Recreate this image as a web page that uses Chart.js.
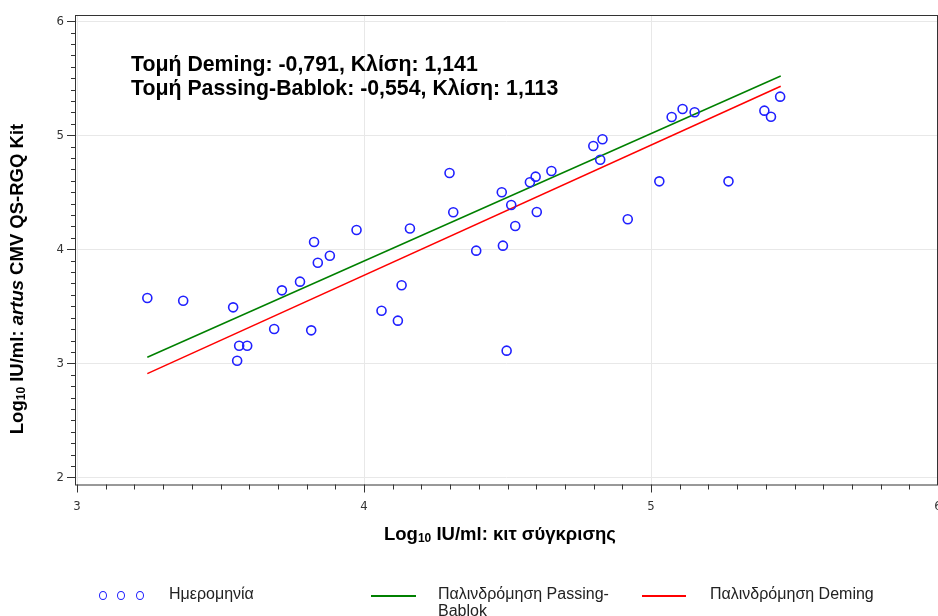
<!DOCTYPE html>
<html>
<head>
<meta charset="utf-8">
<script src="https://cdn.jsdelivr.net/npm/chart.js@4/dist/chart.umd.min.js"></script>
<style>
  html, body { margin: 0; padding: 0; background: #fff; overflow: hidden; }
  #wrap { position: relative; width: 938px; height: 616px; }
  .leg { position: absolute; font: 16px 'Liberation Sans', Arial, sans-serif; color: #222; line-height: 17px; white-space: nowrap; }
  .dot { position: absolute; width: 6px; height: 7px; border: 1.5px solid #2020ff; border-radius: 50%; }
  .ln { position: absolute; height: 1.5px; }
</style>
</head>
<body>
<div id="wrap">
  <canvas id="chart"></canvas>
  <div class="dot" style="left:99px;top:591px"></div>
  <div class="dot" style="left:117px;top:591px"></div>
  <div class="dot" style="left:136px;top:591px"></div>
  <div class="leg" style="left:169px;top:585px">Ημερομηνία</div>
  <div class="ln" style="left:371px;top:595px;width:45px;background:rgb(0,128,0)"></div>
  <div class="leg" style="left:438px;top:585px">Παλινδρόμηση Passing-<br>Bablok</div>
  <div class="ln" style="left:642px;top:595px;width:44px;background:rgb(255,0,0)"></div>
  <div class="leg" style="left:710px;top:585px">Παλινδρόμηση Deming</div>
</div>
<script>
// comparison kit (x) vs artus CMV QS-RGQ (y), log10 IU/ml
const xVals = [3.245, 3.370, 3.544, 3.565, 3.593, 3.558, 3.687, 3.714, 3.777, 3.816,
               3.826, 3.839, 3.881, 3.974, 4.061, 4.118, 4.131, 4.160, 4.298, 4.311,
               4.391, 4.480, 4.484, 4.497, 4.513, 4.527, 4.578, 4.598, 4.602, 4.653,
               4.799, 4.831, 4.823, 4.919, 5.029, 5.072, 5.110, 5.152, 5.270, 5.395,
               5.418, 5.450];
const yVals = [3.573, 3.549, 3.491, 3.154, 3.154, 3.023, 3.301, 3.640, 3.716, 3.289,
               4.064, 3.882, 3.944, 4.169, 3.461, 3.374, 3.684, 4.182, 4.669, 4.325,
               3.988, 4.500, 4.032, 3.111, 4.389, 4.204, 4.588, 4.637, 4.327, 4.687,
               4.906, 4.965, 4.786, 4.263, 4.596, 5.161, 5.231, 5.202, 4.596, 5.216,
               5.163, 5.339];

// regression line end points
const lineX = [3.245, 5.452];
const pbY = [3.053, 5.520];
const demingY = [2.909, 5.430];

const annotation = [
  'Τομή Deming: -0,791, Κλίση: 1,141',
  'Τομή Passing-Bablok: -0,554, Κλίση: 1,113'
];

const toPts = (xs, ys) => xs.map((x, i) => ({x: x, y: ys[i]}));

const tickFont = "'Liberation Sans Narrow', 'DejaVu Sans Condensed', sans-serif";
const textFont = "'Liberation Sans', Arial, sans-serif";

function drawParts(ctx, parts, cx, cy) {
  let total = 0;
  parts.forEach(p => { ctx.font = p.f; p.w = ctx.measureText(p.t).width; total += p.w; });
  let x = cx - total / 2;
  ctx.textBaseline = 'middle';
  ctx.textAlign = 'left';
  parts.forEach(p => { ctx.font = p.f; ctx.fillText(p.t, x, cy + (p.dy || 0)); x += p.w; });
}

const extras = {
  id: 'extras',
  afterDraw(chart) {
    const {ctx, chartArea: a, scales: {x, y}} = chart;
    ctx.save();
    ctx.strokeStyle = '#333';
    ctx.lineWidth = 1;
    ctx.strokeRect(a.left + 0.5, a.top + 0.5, a.right - a.left - 1, a.bottom - a.top);

    ctx.beginPath();
    for (let i = 30; i <= 60; i++) {
      const px = Math.round(x.getPixelForValue(i / 10)) + 0.5;
      if (px > a.right) continue;
      const len = i % 10 === 0 ? 8 : 5;
      ctx.moveTo(px, a.bottom);
      ctx.lineTo(px, a.bottom + len);
    }
    for (let i = 20; i <= 60; i++) {
      const py = Math.round(y.getPixelForValue(i / 10)) + 0.5;
      const len = i % 10 === 0 ? 8 : 4;
      ctx.moveTo(a.left - len, py);
      ctx.lineTo(a.left, py);
    }
    ctx.stroke();

    ctx.fillStyle = '#000';
    ctx.font = 'bold 21.3px ' + textFont;
    ctx.textAlign = 'left';
    ctx.textBaseline = 'middle';
    ctx.fillText(annotation[0], 131, 65);
    ctx.fillText(annotation[1], 131, 89);

    const b = 'bold 18.5px ' + textFont;
    const sub = 'bold 12px ' + textFont;
    drawParts(ctx, [
      {t: 'Log', f: b}, {t: '10', f: sub, dy: 4}, {t: ' IU/ml: κιτ σύγκρισης', f: b}
    ], 500, 535);

    ctx.translate(18, 279);
    ctx.rotate(-Math.PI / 2);
    drawParts(ctx, [
      {t: 'Log', f: b}, {t: '10', f: sub, dy: 4}, {t: ' IU/ml: ', f: b},
      {t: 'artus', f: 'italic bold 18.5px ' + textFont}, {t: ' CMV QS-RGQ Kit', f: b}
    ], 0, 0);
    ctx.restore();
  }
};

const gridColor = c => Number.isInteger(c.tick && c.tick.value) ? '#e8e8e8' : 'rgba(0,0,0,0)';

new Chart(document.getElementById('chart').getContext('2d'), {
  type: 'scatter',
  data: {
    datasets: [{
      label: 'Ημερομηνία',
      data: toPts(xVals, yVals),
      borderColor: '#2020ff',
      backgroundColor: 'rgba(0,0,0,0)',
      pointRadius: 4.5,
      borderWidth: 1.6
    }, {
      label: 'Παλινδρόμηση Passing-Bablok',
      data: toPts(lineX, pbY),
      showLine: true,
      borderColor: 'rgb(0,128,0)',
      borderWidth: 1.5,
      pointRadius: 0
    }, {
      label: 'Παλινδρόμηση Deming',
      data: toPts(lineX, demingY),
      showLine: true,
      borderColor: 'rgb(255,0,0)',
      borderWidth: 1.5,
      pointRadius: 0
    }]
  },
  options: {
    responsive: true,
    maintainAspectRatio: false,
    devicePixelRatio: 1,
    animation: false,
    layout: { autoPadding: false, padding: { top: 15, left: 0, right: 0, bottom: 0 } },
    plugins: { legend: { display: false }, tooltip: { enabled: false } },
    scales: {
      x: {
        min: 2.993, max: 6.0,
        ticks: { stepSize: 1, includeBounds: false, maxRotation: 0, padding: 14, color: '#333', font: { family: tickFont, size: 13 } },
        grid: { color: gridColor, drawTicks: false },
        border: { display: false },
        afterFit: s => { s.height = 131.5; s.paddingLeft = 0; s.paddingRight = 0; }
      },
      y: {
        min: 1.937, max: 6.055,
        ticks: { stepSize: 1, includeBounds: false, padding: 11, color: '#333', font: { family: tickFont, size: 13 } },
        grid: { color: gridColor, drawTicks: false },
        border: { display: false },
        afterFit: s => { s.width = 75; s.paddingTop = 0; s.paddingBottom = 0; }
      }
    }
  },
  plugins: [extras]
});
</script>
</body>
</html>
